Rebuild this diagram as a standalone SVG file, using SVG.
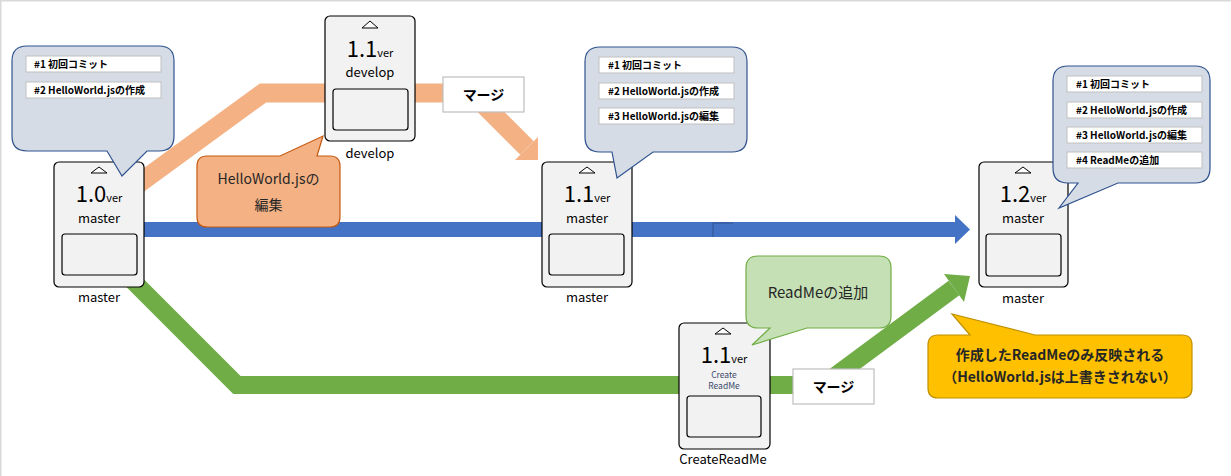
<svg xmlns="http://www.w3.org/2000/svg" width="1231" height="476" viewBox="0 0 1231 476">
<style>
text{font-family:"Noto Sans CJK JP","Noto Sans",sans-serif;fill:#000}
.card{fill:#f2f2f2;stroke:#000;stroke-width:1.2}
.inner{fill:#f2f2f2;stroke:#000;stroke-width:1.2}
.tri{fill:#fff;stroke:#000;stroke-width:1}
.ver{font-size:22px;text-anchor:middle}
.ver tspan.s{font-size:11px}
.br{font-size:13px;text-anchor:middle}
.lbl{font-size:13px;text-anchor:middle}
.bub{fill:#d6dce5;stroke:#2f528f;stroke-width:1.2}
.ln{fill:#fff;stroke:#bfbfbf;stroke-width:1}
.lt{font-size:10px;font-weight:bold}
.mg{fill:#fff;stroke:#bfbfbf;stroke-width:1.2}
.mt{font-size:14px;font-weight:bold;text-anchor:middle}
</style>
<rect x="0" y="0" width="1231" height="1.5" fill="#d9d9d9"/>
<rect x="0" y="0" width="1.5" height="476" fill="#d9d9d9"/>
<g id="connectors">
  <path d="M130,190 L263,93 L472,93 L527,148" fill="none" stroke="#f4b183" stroke-width="19" stroke-linejoin="miter"/>
  <polygon points="538,137 538,160 515,160" fill="#f4b183"/>
  <rect x="140" y="222" width="815" height="15" fill="#4472c4"/>
  <polygon points="955,215 970,229.5 955,244" fill="#4472c4"/>
  <path d="M733,223 L713,223 L713,237" fill="none" stroke="#2f528f" stroke-width="1"/>
  <path d="M130,278 L237,385 L823,385 L954,288" fill="none" stroke="#70ad47" stroke-width="18" stroke-linejoin="miter"/>
  <polygon points="964,302 970,276 944,274" fill="#70ad47"/>
</g>
<g id="merge1">
  <rect class="mg" x="443" y="77" width="81" height="35"/>
  <text class="mt" x="483.5" y="99.5">マージ</text>
</g>
<g id="merge2">
  <rect class="mg" x="793" y="369" width="81" height="35"/>
  <text class="mt" x="833.5" y="391.5">マージ</text>
</g>
<g id="node-master10">
  <rect class="card" x="54" y="162" width="90" height="125" rx="5"/>
  <polygon class="tri" points="99,167 91,173 107,173"/>
  <text class="ver" x="99" y="202">1.0<tspan class="s">ver</tspan></text>
  <text class="br" x="99" y="223">master</text>
  <rect class="inner" x="62" y="234" width="75" height="41" rx="3"/>
  <text class="lbl" x="99" y="302">master</text>
</g>
<g id="node-develop11">
  <rect class="card" x="325" y="16" width="90" height="125" rx="5"/>
  <polygon class="tri" points="370,21 362,28 378,28"/>
  <text class="ver" x="370" y="57">1.1<tspan class="s">ver</tspan></text>
  <text class="br" x="370" y="77">develop</text>
  <rect class="inner" x="333" y="89" width="75" height="41" rx="3"/>
  <text class="lbl" x="370" y="158">develop</text>
</g>
<g id="node-master11">
  <rect class="card" x="542" y="162" width="90" height="125" rx="5"/>
  <polygon class="tri" points="587,167 579,173 595,173"/>
  <text class="ver" x="587" y="202">1.1<tspan class="s">ver</tspan></text>
  <text class="br" x="587" y="223">master</text>
  <rect class="inner" x="549" y="234" width="75" height="41" rx="3"/>
  <text class="lbl" x="587" y="302">master</text>
</g>
<g id="node-master12">
  <rect class="card" x="979" y="162" width="89" height="125" rx="5"/>
  <polygon class="tri" points="1023,167 1015,173 1031,173"/>
  <text class="ver" x="1023" y="202">1.2<tspan class="s">ver</tspan></text>
  <text class="br" x="1023" y="223">master</text>
  <rect class="inner" x="986" y="234" width="75" height="42" rx="3"/>
  <text class="lbl" x="1023" y="303">master</text>
</g>
<g id="node-createreadme">
  <rect class="card" x="679" y="323" width="91" height="126" rx="5"/>
  <polygon class="tri" points="723,328 715,334 731,334"/>
  <text class="ver" x="724" y="363">1.1<tspan class="s">ver</tspan></text>
  <text x="724" y="378" font-size="8.5" text-anchor="middle" style="fill:#3b4a6b">Create</text>
  <text x="724" y="389" font-size="8.5" text-anchor="middle" style="fill:#3b4a6b">ReadMe</text>
  <rect class="inner" x="687" y="396" width="74" height="41" rx="3"/>
  <text class="lbl" x="723" y="464">CreateReadMe</text>
</g>
<g id="callout-1">
  <path class="bub" d="M27,46 H159 Q174,46 174,61 V136 Q174,151 159,151 H147 L122,176 L107,151 H27 Q12,151 12,136 V61 Q12,46 27,46 Z"/>
  <rect class="ln" x="26" y="56" width="135" height="16"/>
  <text class="lt" x="34" y="68">#1 初回コミット</text>
  <rect class="ln" x="26" y="82" width="135" height="16"/>
  <text class="lt" x="34" y="94">#2 HelloWorld.jsの作成</text>
</g>
<g id="callout-2">
  <path class="bub" d="M600,47 H732 Q747,47 747,62 V137 Q747,152 732,152 H653 L617,178 L612,152 H600 Q585,152 585,137 V62 Q585,47 600,47 Z"/>
  <rect class="ln" x="599" y="57" width="135" height="16"/>
  <text class="lt" x="608" y="69">#1 初回コミット</text>
  <rect class="ln" x="599" y="83" width="135" height="16"/>
  <text class="lt" x="608" y="95">#2 HelloWorld.jsの作成</text>
  <rect class="ln" x="599" y="108" width="135" height="16"/>
  <text class="lt" x="608" y="120">#3 HelloWorld.jsの編集</text>
</g>
<g id="callout-3">
  <path class="bub" d="M1068,66 H1195 Q1210,66 1210,81 V168 Q1210,183 1195,183 H1118 L1059,208 L1078,183 H1068 Q1053,183 1053,168 V81 Q1053,66 1068,66 Z"/>
  <rect class="ln" x="1067" y="76" width="135" height="16"/>
  <text class="lt" x="1076" y="88">#1 初回コミット</text>
  <rect class="ln" x="1067" y="102" width="135" height="16"/>
  <text class="lt" x="1076" y="114">#2 HelloWorld.jsの作成</text>
  <rect class="ln" x="1067" y="127" width="135" height="16"/>
  <text class="lt" x="1076" y="139">#3 HelloWorld.jsの編集</text>
  <rect class="ln" x="1067" y="152" width="135" height="16"/>
  <text class="lt" x="1076" y="164">#4 ReadMeの追加</text>
</g>
<g id="callout-edit">
  <path d="M207,156 H280 L323,136 L317,156 H330 Q340,156 340,166 V217 Q340,227 330,227 H207 Q197,227 197,217 V166 Q197,156 207,156 Z" fill="#f4b183" stroke="#c55a11" stroke-width="1.2"/>
  <text x="268.5" y="184" font-size="14" text-anchor="middle" style="fill:#262626">HelloWorld.jsの</text>
  <text x="268.5" y="210" font-size="14" text-anchor="middle" style="fill:#262626">編集</text>
</g>
<g id="callout-readme">
  <path d="M758,256 H879 Q891,256 891,268 V316 Q891,328 879,328 H807 L752,345 L770,328 H758 Q746,328 746,316 V268 Q746,256 758,256 Z" fill="#c5e0b4" stroke="#70ad47" stroke-width="1.2"/>
  <text x="818" y="298" font-size="15" text-anchor="middle" style="fill:#262626">ReadMeの追加</text>
</g>
<g id="callout-note">
  <path d="M938,335 H970 L952,314 L1035,335 H1182 Q1192,335 1192,345 V388 Q1192,398 1182,398 H938 Q928,398 928,388 V345 Q928,335 938,335 Z" fill="#ffc000" stroke="#bf9000" stroke-width="1.2"/>
  <text x="1060" y="360" font-size="14" font-weight="bold" text-anchor="middle" style="fill:#262626">作成したReadMeのみ反映される</text>
  <text x="1060" y="382" font-size="14" font-weight="bold" text-anchor="middle" style="fill:#262626">（HelloWorld.jsは上書きされない）</text>
</g>
</svg>
